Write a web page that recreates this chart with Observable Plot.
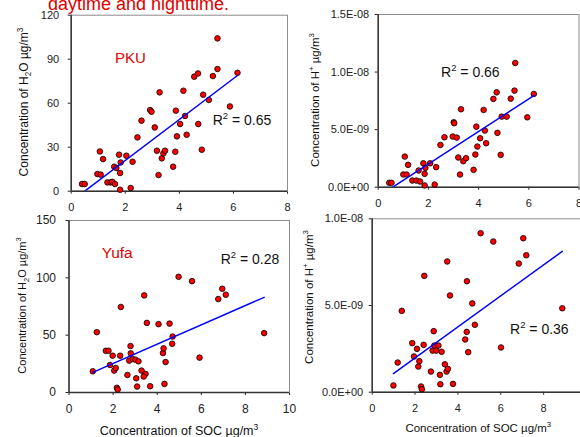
<!DOCTYPE html>
<html><head><meta charset="utf-8">
<script src="https://cdn.jsdelivr.net/npm/d3@7"></script>
<script src="https://cdn.jsdelivr.net/npm/@observablehq/plot@0.6"></script>
<style>
html,body{margin:0;padding:0;background:#fff;}
#wrap{position:relative;width:580px;height:437px;overflow:hidden;font-family:'Liberation Sans',Arial,sans-serif;background:#fff;}
#wrap svg{position:absolute;}
#title{position:absolute;left:48px;top:-6px;font-size:18px;line-height:20px;color:#e00000;white-space:nowrap;}
</style></head><body>
<div id="wrap"><div id="title">daytime and nighttime.</div></div>
<script>
// ---- PKU: H2O vs SOC ----
const socPKU_a = [0.40,0.50,1.06,1.18,0.97,1.09,1.34,1.46,1.52,1.62,1.59,1.67,1.77,1.83,1.81,1.81,2.04,2.27,2.20,2.45,2.60,2.92,2.97,3.09,3.27,3.17,3.23,3.35,3.41,3.47,3.77,3.85,3.87,3.91,4.03,4.15,4.21,4.27,4.55,4.69,4.70,4.83,4.88,5.09,5.24,5.41,5.41,5.87,6.15];
const h2oPKU = [4.9,4.9,27.1,21.9,11.7,11.3,6.0,6.0,6.4,4.9,16.7,15.8,24.9,19.6,12.4,1.0,24.2,20.1,2.2,36.7,48.1,55.3,54.2,43.5,67.4,27.6,11.0,22.4,25.8,27.6,16.7,26.9,54.9,37.4,45.8,68.5,51.3,38.5,78.1,80.3,45.8,28.3,65.8,62.2,78.5,83.3,104.2,57.8,80.7];
// ---- PKU: H+ vs SOC (H+ in units of 1E-09 µg/m3) ----
const socPKU_b = [0.44,0.53,1.06,1.19,1.00,1.13,1.36,1.52,1.67,1.61,1.80,1.85,1.88,2.07,1.85,2.25,2.31,2.48,2.64,2.97,3.01,3.03,3.13,3.19,3.26,3.30,3.39,3.50,3.80,3.87,3.91,3.95,4.06,4.20,4.25,4.30,4.59,4.72,4.75,4.88,4.92,5.12,5.28,5.43,5.46,5.94,6.20];
const hPKU = [0.38,0.38,2.66,1.94,1.10,1.10,0.58,0.58,0.49,1.45,2.08,1.16,1.68,2.08,0.15,0.23,1.74,3.67,4.34,4.40,5.64,5.56,4.31,2.58,1.10,6.77,2.26,2.52,1.51,2.84,5.26,3.53,4.25,6.71,4.92,3.82,7.67,8.24,4.72,2.81,6.13,6.13,7.69,8.39,10.79,6.07,8.10];
// ---- Yufa: H2O vs SOC ----
const socYufa_a = [1.08,1.26,1.67,1.79,1.86,1.98,2.05,2.12,2.17,2.21,2.32,2.35,2.65,2.73,2.79,2.80,2.89,3.02,3.15,3.05,3.09,3.29,3.41,3.47,3.39,3.53,3.68,4.06,4.26,4.29,4.33,4.38,4.56,4.68,4.70,4.97,5.58,5.92,6.77,6.95,7.11,8.85];
const h2oYufa = [18.5,52.6,36.4,36.4,24.0,32.1,19.1,21.4,4.1,2.6,32.1,74.6,15.3,27.8,40.5,34.1,29.2,28.6,27.2,12.4,5.2,19.1,84.7,16.2,13.9,60.7,5.5,59.6,34.4,38.5,7.5,26.6,60.1,42.5,48.8,100.9,97.1,30.4,81.5,90.5,85.3,51.8];
// ---- Yufa: H+ vs SOC (H+ in units of 1E-09 µg/m3) ----
const socYufa_b = [0.99,1.19,1.38,1.87,1.95,2.09,2.15,2.20,2.28,2.32,2.40,2.43,2.74,2.82,2.87,2.90,2.99,3.09,3.16,3.18,3.24,3.39,3.47,3.50,3.53,3.63,3.77,4.34,4.41,4.42,4.48,4.67,4.79,5.06,5.65,6.01,6.84,7.05,7.19,8.87];
const hYufa = [0.39,1.71,4.69,2.83,2.06,2.50,1.48,1.79,0.33,0.17,2.73,6.71,1.19,2.40,3.52,2.69,2.40,2.69,1.00,0.46,2.33,1.61,1.19,7.54,1.35,5.58,0.48,3.04,3.48,6.40,2.31,5.12,3.89,9.17,8.69,2.58,7.42,8.88,7.90,4.84];

// ---- tick values & labels ----
const xTicks8 = [0,2,4,6,8];
const xTicks10 = [0,2,4,6,8,10];
const yTicksH2O_PKU = [0,30,60,90,120];
const yTicksH2O_Yufa = [0,50,100,150];
const yTicksH_PKU = [0,5,10,15];
const yLabelsH_PKU = ["0.0E+00","5.0E-09","1.0E-08","1.5E-08"];
const yTicksH_Yufa = [0,5,10];
const yLabelsH_Yufa = ["0.0E+00","5.0E-09","1.0E-08"];
const r2 = ["0.65","0.66","0.28","0.36"];
const sites = ["PKU","Yufa"];

const FONT = "'Liberation Sans', Arial, sans-serif";
const wrap = document.getElementById("wrap");

function addText(svg, x, y, parts, opt) {
  const t = d3.select(svg).append("text")
    .attr("font-size", opt.size).attr("fill", opt.fill || "#111")
    .attr("font-family", FONT)
    .attr("text-anchor", opt.anchor || "start")
    .attr("transform", `translate(${x},${y})` + (opt.rotate ? ` rotate(${opt.rotate})` : ""));
  let cur = 0;
  parts.forEach(([s, k]) => {
    const target = k === "sub" ? opt.size * 0.28 : k === "sup" ? -opt.size * 0.42 : 0;
    const ts = t.append("tspan").text(s);
    if (k) ts.attr("font-size", opt.size * 0.68);
    if (target !== cur) ts.attr("dy", target - cur);
    cur = target;
  });
}

function panel(cfg) {
  const data = cfg.xs.map((d, i) => ({x: d, y: cfg.ys[i]}));
  const fmt = cfg.yLabels ? (d => cfg.yLabels[cfg.yTicks.indexOf(d)]) : undefined;
  const svg = Plot.plot({
    width: cfg.w, height: cfg.h,
    marginLeft: cfg.ml, marginRight: cfg.mr, marginTop: cfg.mt, marginBottom: cfg.mb,
    style: {fontFamily: FONT, fontSize: cfg.tickFont + "px", color: "#222", background: "transparent", overflow: "visible", maxWidth: "none"},
    x: {domain: cfg.xDomain, ticks: cfg.xTicks, tickSize: 3, tickPadding: cfg.xPad, label: null},
    y: {domain: cfg.yDomain, ticks: cfg.yTicks, tickSize: 3, tickPadding: cfg.yPad, tickFormat: fmt, label: null},
    marks: [
      Plot.frame({stroke: "#8c8c8c"}),
      Plot.ruleX([cfg.xDomain[0]], {stroke: "#333", strokeWidth: 1.5}),
      Plot.ruleY([cfg.yDomain[0]], {stroke: "#333", strokeWidth: 1.5}),
      Plot.dot(data, {x: "x", y: "y", r: 2.8, fill: "#ff0000", stroke: "#000", strokeWidth: 0.8}),
      Plot.linearRegressionY(data, {x: "x", y: "y", stroke: "#0000ff", strokeWidth: 1.5, ci: 0, clip: true})
    ]
  });
  svg.style.left = cfg.left + "px";
  svg.style.top = cfg.top + "px";
  wrap.appendChild(svg);
  return svg;
}

// Panel 1: PKU H2O
const s1 = panel({xs: socPKU_a, ys: h2oPKU, left: 0, top: 0, w: 300, h: 218,
  ml: 70.7, mr: 13, mt: 14.7, mb: 27.3, xDomain: [0,8], yDomain: [0,120],
  xTicks: xTicks8, yTicks: yTicksH2O_PKU, tickFont: 11, xPad: 9, yPad: 9});
addText(s1, 28, 102, [["Concentration of H"],["2","sub"],["O µg/m"],["3","sup"]], {size: 12, anchor: "middle", rotate: -90});
addText(s1, 115, 62.7, [[sites[0]]], {size: 15, fill: "#e00000"});
addText(s1, 212.7, 125, [["R"],["2","sup"],[" = " + r2[0]]], {size: 14});

// Panel 2: PKU H+
const s2 = panel({xs: socPKU_b, ys: hPKU, left: 290, top: 0, w: 300, h: 218,
  ml: 87.7, mr: 11.5, mt: 14, mb: 31.3, xDomain: [0,8], yDomain: [0,15],
  xTicks: xTicks8, yTicks: yTicksH_PKU, yLabels: yLabelsH_PKU, tickFont: 11, xPad: 9, yPad: 6});
addText(s2, 29, 100, [["Concentration of H"],["+","sup"],[" µg/m"],["3","sup"]], {size: 11.5, anchor: "middle", rotate: -90});
addText(s2, 151, 76.7, [["R"],["2","sup"],[" = " + r2[1]]], {size: 14});

// Panel 3: Yufa H2O
const s3 = panel({xs: socYufa_a, ys: h2oYufa, left: 0, top: 210, w: 300, h: 227,
  ml: 68.5, mr: 11, mt: 10, mb: 45, xDomain: [0,10], yDomain: [0,150],
  xTicks: xTicks10, yTicks: yTicksH2O_Yufa, tickFont: 12, xPad: 9, yPad: 10});
addText(s3, 25.5, 95.5, [["Concentration of H"],["2","sub"],["O µg/m"],["3","sup"]], {size: 11, anchor: "middle", rotate: -90});
addText(s3, 101.7, 47.7, [[sites[1]]], {size: 15.5, fill: "#e00000"});
addText(s3, 220.7, 54, [["R"],["2","sup"],[" = " + r2[2]]], {size: 14});
addText(s3, 179, 225, [["Concentration of SOC µg/m"],["3","sup"]], {size: 12.5, anchor: "middle"});

// Panel 4: Yufa H+
const s4 = panel({xs: socYufa_b, ys: hYufa, left: 290, top: 210, w: 310, h: 227,
  ml: 81.7, mr: 14, mt: 8.3, mb: 45.3, xDomain: [0,10], yDomain: [0,10],
  xTicks: xTicks10, yTicks: yTicksH_Yufa, yLabels: yLabelsH_Yufa, tickFont: 11, xPad: 9, yPad: 6});
addText(s4, 23, 87, [["Concentration of H"],["+","sup"],[" µg/m"],["3","sup"]], {size: 11.5, anchor: "middle", rotate: -90});
addText(s4, 220, 124, [["R"],["2","sup"],[" = " + r2[3]]], {size: 14});
addText(s4, 188.3, 221.7, [["Concentration of SOC µg/m"],["3","sup"]], {size: 11.5, anchor: "middle"});
</script>
</body></html>
